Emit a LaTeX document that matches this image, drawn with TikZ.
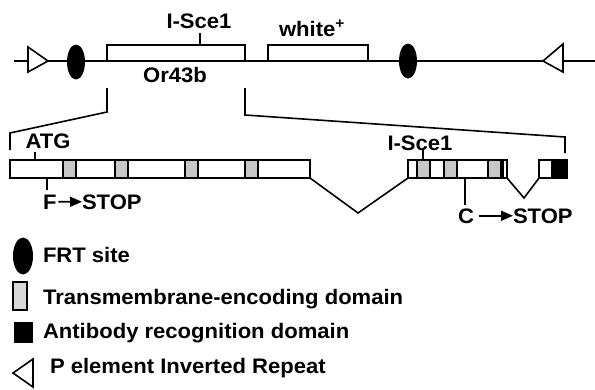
\documentclass[tikz,border=0pt]{standalone}
\usepackage{fontspec}
\setmainfont{Liberation Sans}[FakeStretch=1.05]
\usetikzlibrary{arrows.meta,shapes.geometric}
\definecolor{tmgray}{gray}{0.78}
\definecolor{tmlight}{gray}{0.85}
\begin{document}
\begin{tikzpicture}[x=1pt,y=-1pt,
  every node/.style={inner sep=0pt, outer sep=0pt},
  ln/.style={line width=1.6pt},
  lbl/.style={font=\fontsize{21}{21}\selectfont\bfseries, anchor=base},
  exon/.style={draw, line width=1.5pt, fill=white, anchor=north west, minimum height=18pt},
  tmbox/.style={draw, line width=1.8pt, fill=tmgray, anchor=north west, minimum width=13pt, minimum height=18pt},
  abbox/.style={draw, line width=1.5pt, fill=black, anchor=north west, minimum height=18pt},
  frt/.style={ellipse, fill=black, minimum width=18pt, minimum height=35pt},
  hdr/.style={draw, line width=1.5pt, anchor=north west, minimum height=16pt},
  arr/.style={ln, -{Triangle[length=12pt,width=10pt]}},
]
\useasboundingbox (0,0) rectangle (595,389);
\fill[white] (0,0) rectangle (595,389);

% ---------- top construct ----------
\coordinate (tl) at (14,61);
\coordinate (tr) at (595,61);
\draw[ln] (tl) -- (tr);
\node[hdr, minimum width=138pt] (or) at (107,45) {};
\node[hdr, minimum width=100pt] (wh) at (268,45) {};
\node[lbl] (isce) at (199,28) {I-Sce1};
\coordinate (isT) at (200,33);
\draw[ln] (isT) -- (isT |- or.north);
\node[lbl] (orl) at (175,82) {Or43b};
\node[lbl] (whl) at (312,36) {white\textsuperscript{+}};
\node[frt] (f1) at (76,62) {};
\node[frt] (f2) at (408,61) {};
\draw[ln, fill=white] (28,47) -- (48,61) -- (28,72) -- cycle;
\draw[ln, fill=white] (563,44) -- (543,61) -- (563,72) -- cycle;

% ---------- expansion brackets ----------
\coordinate (bl1) at (107,88);
\coordinate (bl2) at (107,112);
\coordinate (bl3) at (10,133);
\coordinate (bl4) at (10,150);
\draw[ln, line join=miter] (bl1) -- (bl2) -- (bl3) -- (bl4);
\coordinate (br1) at (245,88);
\coordinate (br2) at (245,115);
\coordinate (br3) at (565,137);
\coordinate (br4) at (565,153);
\draw[ln, line join=miter] (br1) -- (br2) -- (br3) -- (br4);

% ---------- gene structure ----------
\node[exon, minimum width=300pt] (e1) at (10,160) {};
\node[tmbox] (t1) at (63,160) {};
\node[tmbox] (t2) at (115,160) {};
\node[tmbox] (t3) at (185,160) {};
\node[tmbox] (t4) at (245,160) {};
\node[exon, minimum width=99pt] (e2) at (408,160) {};
\node[tmbox] (t5) at (417,160) {};
\node[tmbox] (t6) at (444,160) {};
\node[tmbox] (t7) at (488,160) {};
\coordinate (sepT) at (503,160);
\draw[line width=1.2pt] (sepT) -- (sepT |- e2.south);
\node[exon, minimum width=28pt] (e3) at (539,160) {};
\node[abbox, minimum width=15pt] (ab) at (552,160) {};
\coordinate (i1) at (358,213);
\draw[ln] (e1.south east) -- (i1) -- (e2.south west);
\coordinate (i2) at (524,198);
\draw[ln] (e2.south east) -- (i2) -- (e3.south west);

% labels on gene
\node[lbl] (atg) at (48,148) {ATG};
\coordinate (atgT) at (35,152);
\draw[ln] (atgT) -- (atgT |- e1.north);
\node[lbl] (isce2) at (420,150) {I-Sce1};
\coordinate (is2T) at (423,150);
\draw[ln] (is2T) -- (is2T |- e2.north);
\node[lbl, anchor=base west] (fF) at (43,209) {F};
\node[lbl, anchor=base west] (fS) at (82,209) {STOP};
\draw[arr] ([xshift=2pt]fF.east) -- (fS.west);
\coordinate (fT) at (47,190);
\draw[ln] (fT |- e1.south) -- (fT);
\node[lbl, anchor=base west] (cC) at (458,223) {C};
\node[lbl, anchor=base west] (cS) at (513,223) {STOP};
\draw[arr] ([xshift=5pt]cC.east) -- (cS.west);
\coordinate (cT) at (465,205);
\draw[ln] (cT |- e2.south) -- (cT);

% ---------- legend ----------
\node[frt, minimum width=20pt, minimum height=37pt] (lf) at (23,256) {};
\node[lbl, anchor=base west] (lft) at (43,262) {FRT site};
\node[tmbox, minimum width=14pt, minimum height=28pt, fill=tmlight] (ltm) at (13,282) {};
\node[lbl, anchor=base west] (ltmt) at (43,304) {Transmembrane-encoding domain};
\node[abbox, minimum width=17pt, minimum height=19pt] (lab) at (15,323) {};
\node[lbl, anchor=base west] (labt) at (43,338) {Antibody recognition domain};
\draw[ln, fill=white] (33,359) -- (13,373) -- (33,387) -- cycle;
\node[lbl, anchor=base west] (lpt) at (50,373) {P element Inverted Repeat};
\end{tikzpicture}
\end{document}
